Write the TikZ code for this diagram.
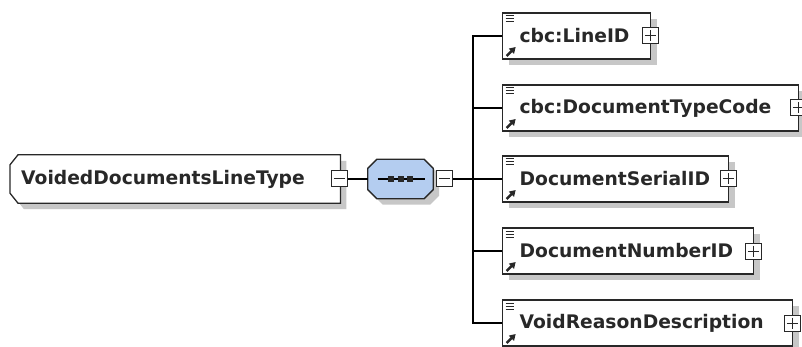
\documentclass[tikz,border=0pt]{standalone}
\usepackage{fontspec}
\setmainfont{DejaVu Sans}
\usetikzlibrary{shadows,arrows.meta,backgrounds}

\definecolor{seqblue}{RGB}{180,205,240}
\definecolor{inkgray}{RGB}{40,40,40}

\tikzset{
  xsdshadow/.style={drop shadow={shadow xshift=6pt,shadow yshift=-6pt,fill=black!22,opacity=1}},
  xsdfont/.style={font=\fontsize{18.7}{22}\selectfont\bfseries, text=inkgray},
  outline/.style={draw=inkgray, line width=1.3pt},
  elem/.style={rectangle, outline, fill=white, xsdshadow, xsdfont,
    anchor=west, minimum height=46pt, inner xsep=17pt, align=left,
    path picture={
      \foreach \k in {0,1,2}
        \draw[line width=1pt] ([xshift=3pt,yshift=-3pt-\k*3pt]path picture bounding box.north west) -- ++(8pt,0);
      \draw[line width=2.4pt,-{Triangle[length=6pt,width=7pt]}] ([xshift=4pt,yshift=3pt]path picture bounding box.south west) -- ++(9pt,9pt);
    }},
  rootelem/.style={rectangle, xsdfont, anchor=west, minimum height=48pt, inner xsep=11pt, align=left},
  seqnode/.style={rectangle, minimum width=65pt, minimum height=39pt, inner sep=0pt},
  xbox/.style={rectangle, draw=inkgray, line width=1pt, fill=white, minimum size=16pt, inner sep=0pt},
  plusbox/.style={xbox, path picture={
      \draw[line width=1pt] ([xshift=2.5pt]path picture bounding box.west) -- ([xshift=-2.5pt]path picture bounding box.east)
        ([yshift=-2.5pt]path picture bounding box.north) -- ([yshift=2.5pt]path picture bounding box.south);}},
  minusbox/.style={xbox, path picture={
      \draw[line width=1pt] ([xshift=2.5pt]path picture bounding box.west) -- ([xshift=-2.5pt]path picture bounding box.east);}},
  link/.style={line width=1.3pt, draw=black}
}

\begin{document}
\begin{tikzpicture}[x=1pt,y=-1pt]
\useasboundingbox (0,0) rectangle (802,347);

% root type and sequence
\node[rootelem, text width=308pt] (root) at (10,179) {VoidedDocumentsLineType};
\node[minusbox] (rootbox) at ([xshift=-1pt]root.east) {};
\node[seqnode] (seq) at (400.5,179) {};
\draw[line width=1.2pt] ([xshift=-23pt]seq.center) -- ([xshift=24pt]seq.center);
\foreach \dx in {-9.5,0,9.5}
  \fill[inkgray] ([xshift=\dx pt]seq.center) +(-3pt,-3pt) rectangle +(3pt,3pt);
\node[minusbox] (seqbox) at (444.5,179) {};
\coordinate (fork) at (473,179);

\begin{scope}[on background layer]
\fill[white] (0,0) rectangle (802,347);
\draw[outline, fill=white, xsdshadow] ([xshift=8pt]root.north west) -- (root.north east) -- (root.south east)
  -- ([xshift=8pt]root.south west) -- ([yshift=10pt]root.south west) -- ([yshift=-10pt]root.north west) -- cycle;
\draw[outline, fill=seqblue, xsdshadow] ([xshift=9pt]seq.north west) -- ([xshift=-9pt]seq.north east)
  -- ([yshift=-9pt]seq.north east) -- ([yshift=9pt]seq.south east) -- ([xshift=-9pt]seq.south east)
  -- ([xshift=9pt]seq.south west) -- ([yshift=9pt]seq.south west) -- ([yshift=-9pt]seq.north west) -- cycle;
\end{scope}

% children
\node[elem, text width=114pt] (lineid) at (502,36) {cbc:LineID};
\node[elem, text width=262pt] (typecode) at (502,108) {cbc:DocumentTypeCode};
\node[elem, text width=192pt] (serialid) at (502,179) {DocumentSerialID};
\node[elem, text width=217pt] (numberid) at (502,251) {DocumentNumberID};
\node[elem, text width=256pt] (reason) at (502,323) {VoidReasonDescription};

\foreach \c in {lineid,typecode,serialid,numberid,reason}
  \node[plusbox] (\c box) at ([xshift=-1pt]\c.east) {};

% connectors
\draw[link] (rootbox) -- (seq);
\draw[link] (seqbox) -- (fork);
\foreach \c in {lineid,typecode,serialid,numberid,reason}
  \draw[link] (fork) |- (\c.west);

\end{tikzpicture}
\end{document}
